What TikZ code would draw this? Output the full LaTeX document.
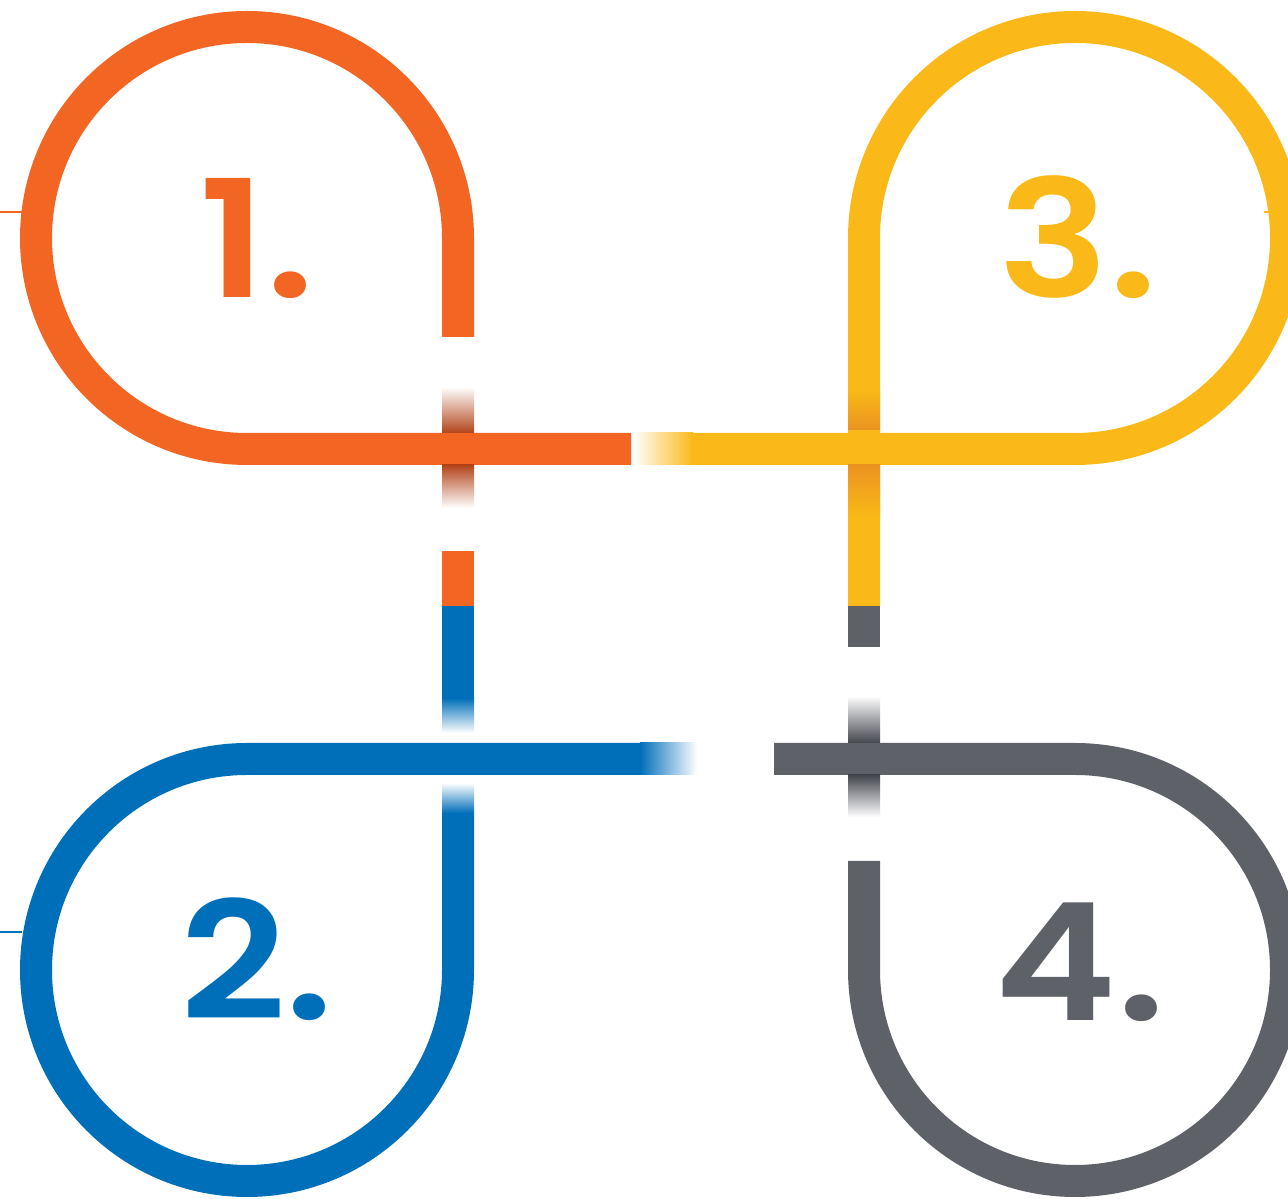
\documentclass[tikz,border=0pt]{standalone}
\usepackage{fontspec}
\newfontfamily\numfont{Poppins}[BoldFont={Poppins SemiBold},FakeStretch=1.13]
\usepackage{xcolor}
\usepackage{tikz}
\definecolor{orng}{HTML}{F26522}
\definecolor{yell}{HTML}{FAB918}
\definecolor{blu}{HTML}{006FB9}
\definecolor{gry}{HTML}{5F6169}
\definecolor{orngdk}{HTML}{B3441A}
\definecolor{yelldk}{HTML}{EA9320}
\definecolor{grydk}{HTML}{44464E}
\tikzset{
  band/.style={line width=0.64cm,line cap=butt},
  num/.style={font=\numfont\bfseries\fontsize{93}{93}\selectfont,anchor=base},
  tick/.style={line width=0.6pt}
}
% vertical bar piece at x=#1 from #2 down to #3
\newcommand{\vbar}[4]{\fill[#4] (#1-16,#2) rectangle (#1+16,#3);}
\newcommand{\vfade}[5]{\shade[top color=#4,bottom color=#5] (#1-16,#2) rectangle (#1+16,#3);}
\newcommand{\hfade}[5]{\shade[left color=#4,right color=#5] (#1,#3-16) rectangle (#2,#3+16);}

\begin{document}
\begin{tikzpicture}[x=0.02cm,y=0.02cm]
\useasboundingbox (0,0) rectangle (1288,1199);
\clip (0,0) rectangle (1288,1199);
% side ticks
\draw[tick,orng] (0,987) -- (22,987);
\draw[tick,blu] (0,267) -- (22,267);
\draw[tick,yell] (1264,987) -- (1288,987);
% loop 1
\draw[band,orng] (458,862) -- (458,961) arc[start angle=0,end angle=270,radius=211] -- (631,750);
\vfade{458}{812}{766}{white}{orngdk}
\vfade{458}{734}{691}{orngdk}{white}
\vbar{458}{648}{593}{orng}
% loop 3
\hfade{633}{693}{750}{white}{yell}
\draw[band,yell] (693,750) -- (1075,750) arc[start angle=-90,end angle=180,radius=211] -- (864,593);
\vfade{864}{809}{769}{yell}{yelldk}
\vfade{864}{734}{682}{yelldk}{yell}
% loop 2
\draw[band,blu] (458,386) -- (458,229) arc[start angle=0,end angle=-270,radius=211] -- (640,440);
\hfade{640}{697}{440}{blu}{white}
\vbar{458}{593}{501}{blu}
\vfade{458}{501}{466}{blu}{white}
\vfade{458}{416}{386}{white}{blu}
% loop 4
\draw[band,gry] (864,338) -- (864,229) arc[start angle=180,end angle=450,radius=211] -- (774,440);
\vbar{864}{593}{552}{gry}
\vfade{864}{503}{456}{white}{grydk}
\vfade{864}{424}{382}{grydk}{white}
% numbers
\node[num,text=orng] (one) at (257,901) {1.};
\node[num,text=blu] (two) at (257,179) {2.};
\node[num,text=yell] (three) at (1078,901) {3.};
\node[num,text=gry] (four) at (1080,178) {4.};
\end{tikzpicture}
\end{document}
